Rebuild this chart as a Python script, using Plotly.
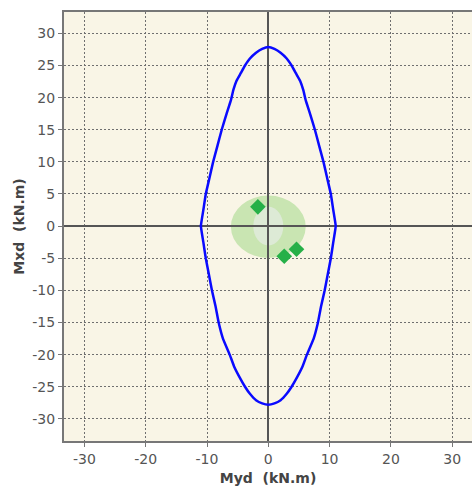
import plotly.graph_objects as go

# Interaction envelope (Myd, Mxd) in kN.m
env_x = [0.0, 1.0, 2.0, 3.0, 3.8, 4.5, 5.2, 5.7, 6.1, 6.8, 7.6, 8.3, 9.0, 9.6, 10.2, 10.6, 11.0,
         10.6, 10.2, 9.7, 9.2, 8.6, 8.1, 7.4, 6.3, 5.6, 4.7, 3.8, 3.0, 2.0, 1.0, 0.0,
         -1.0, -2.0, -3.0, -3.8, -4.7, -5.6, -6.3, -7.4, -8.1, -8.6, -9.2, -9.7, -10.2, -10.6, -11.0,
         -10.6, -10.2, -9.6, -9.0, -8.3, -7.6, -6.8, -6.1, -5.7, -5.2, -4.5, -3.8, -3.0, -2.0, -1.0, 0.0]
env_y = [27.9, 27.6, 27.0, 26.1, 25.0, 23.8, 22.6, 21.2, 19.6, 17.5, 15.0, 12.5, 10.0, 7.5, 5.0, 2.5, 0.0,
         -2.5, -5.0, -7.5, -10.0, -12.5, -15.0, -17.5, -20.0, -21.8, -23.5, -25.0, -26.1, -27.1, -27.6, -27.8,
         -27.6, -27.1, -26.1, -25.0, -23.5, -21.8, -20.0, -17.5, -15.0, -12.5, -10.0, -7.5, -5.0, -2.5, 0.0,
         2.5, 5.0, 7.5, 10.0, 12.5, 15.0, 17.5, 19.6, 21.2, 22.6, 23.8, 25.0, 26.1, 27.0, 27.6, 27.9]

# Design load points
pts_x = [-1.7, 2.6, 4.6]
pts_y = [3.0, -4.7, -3.6]

# Ellipses: centre x, centre y, half-width, half-height
ell_cx = [0.0, 0.0]
ell_cy = [-0.1, 0.0]
ell_rx = [6.1, 2.45]
ell_ry = [4.85, 3.0]
ell_col = ["rgb(201,229,178)", "rgb(221,234,214)"]

xticks = [-30, -20, -10, 0, 10, 20, 30]
yticks = [-30, -25, -20, -15, -10, -5, 0, 5, 10, 15, 20, 25, 30]

fig = go.Figure()
fig.add_trace(go.Scatter(x=env_x, y=env_y, mode="lines",
                         line=dict(color="#0a0aff", width=2.5, shape="spline", smoothing=0.3),
                         hoverinfo="skip"))
fig.add_trace(go.Scatter(x=pts_x, y=pts_y, mode="markers",
                         marker=dict(symbol="diamond", size=12, color="rgb(38,176,72)",
                                     line=dict(width=0))))

for cx, cy, rx, ry, c in zip(ell_cx, ell_cy, ell_rx, ell_ry, ell_col):
    fig.add_shape(type="circle", xref="x", yref="y", x0=cx - rx, x1=cx + rx,
                  y0=cy - ry, y1=cy + ry, fillcolor=c, line=dict(width=0), layer="below")

font = dict(family="DejaVu Sans, Verdana, sans-serif", size=14, color="#555555")
grid = dict(showgrid=True, gridcolor="#6f6f6f", griddash="2px,2px", gridwidth=1,
            zeroline=True, zerolinecolor="#555555", zerolinewidth=1.5,
            showline=True, linecolor="#777777", linewidth=2,
            ticks="outside", ticklen=4, tickcolor="#777777", tickfont=font,
            automargin=False)

fig.update_xaxes(range=[-33.33, 33.23], tickvals=xticks,
                 ticktext=[str(v) for v in xticks], mirror=True,
                 title=dict(text="<b>Myd  (kN.m)</b>", standoff=7,
                            font=dict(family="DejaVu Sans, Verdana, sans-serif", size=14, color="#444444")),
                 **grid)
fig.update_yaxes(range=[-33.45, 33.33], tickvals=yticks,
                 ticktext=[str(v) for v in yticks],
                 title=dict(text="<b>Mxd  (kN.m)</b>", standoff=4,
                            font=dict(family="DejaVu Sans, Verdana, sans-serif", size=14, color="#444444")),
                 **grid)

fig.update_layout(width=472, height=486, showlegend=False,
                  margin=dict(l=64, r=0, t=12, b=45, autoexpand=False),
                  plot_bgcolor="rgb(249,245,230)", paper_bgcolor="white")

fig.write_html("out.html", config={"displayModeBar": False},
               post_script="document.body.style.margin='0';document.body.style.overflow='hidden';")
